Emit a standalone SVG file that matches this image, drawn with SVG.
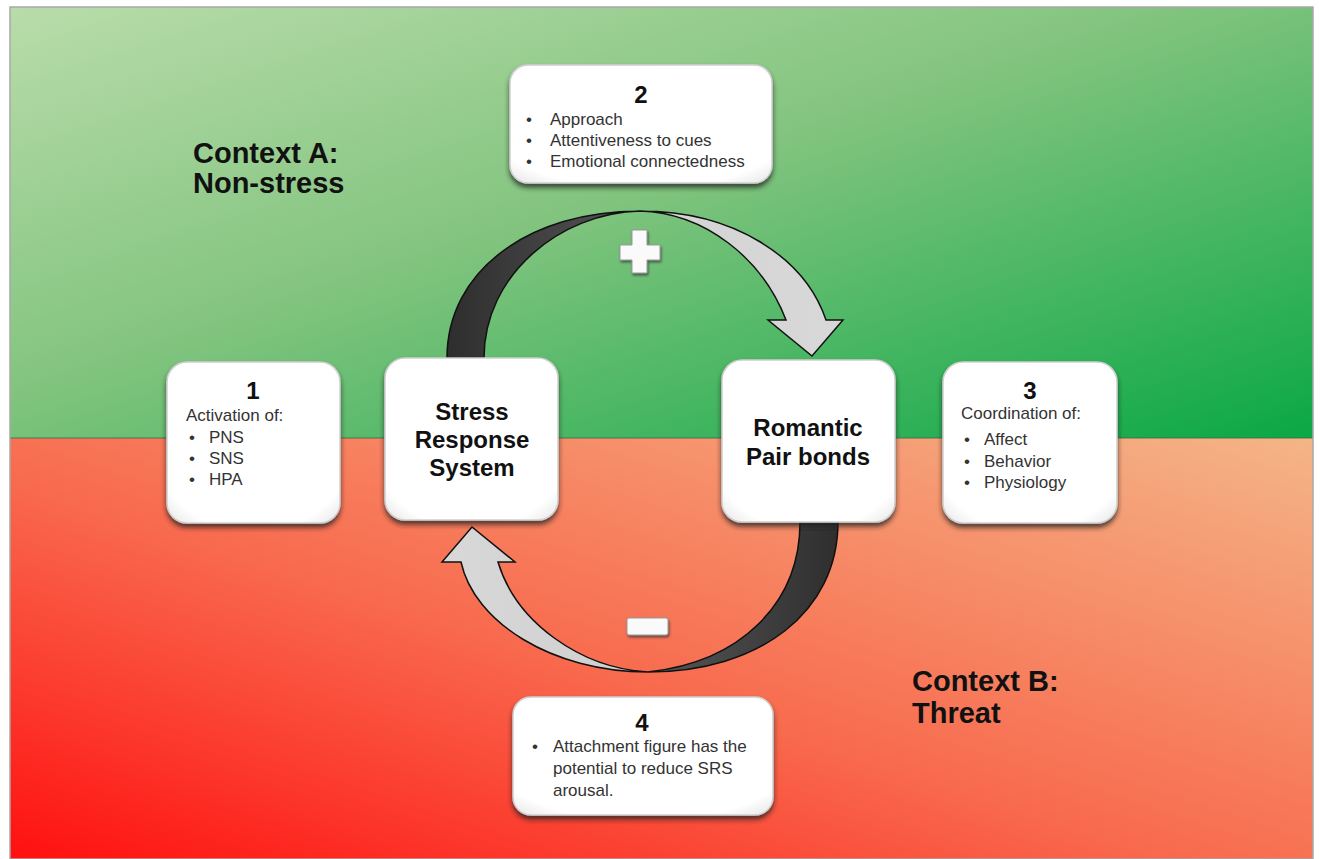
<svg xmlns="http://www.w3.org/2000/svg" width="1320" height="859" viewBox="0 0 1320 859">
<defs>
<linearGradient id="gGreen" x1="0" y1="0" x2="1" y2="1">
<stop offset="0" stop-color="#b9dcaa"/>
<stop offset="0.45" stop-color="#82c47f"/>
<stop offset="1" stop-color="#0aa845"/>
</linearGradient>
<linearGradient id="gRed" x1="0" y1="1" x2="1" y2="0">
<stop offset="0" stop-color="#ff1010"/>
<stop offset="0.45" stop-color="#f86a4e"/>
<stop offset="1" stop-color="#f4b587"/>
</linearGradient>
<linearGradient id="gTop" x1="440" y1="0" x2="850" y2="0" gradientUnits="userSpaceOnUse">
<stop offset="0" stop-color="#2c2c2c"/>
<stop offset="0.35" stop-color="#4a4a4a"/>
<stop offset="0.47" stop-color="#555"/>
<stop offset="0.55" stop-color="#d4d4d4"/>
<stop offset="1" stop-color="#d8d8d8"/>
</linearGradient>
<linearGradient id="gBot" x1="440" y1="0" x2="850" y2="0" gradientUnits="userSpaceOnUse">
<stop offset="0" stop-color="#d8d8d8"/>
<stop offset="0.45" stop-color="#d0d0d0"/>
<stop offset="0.53" stop-color="#555"/>
<stop offset="1" stop-color="#2c2c2c"/>
</linearGradient>
<radialGradient id="gBox" cx="0.5" cy="0.45" r="0.75">
<stop offset="0.8" stop-color="#ffffff"/>
<stop offset="1" stop-color="#e4e4e4"/>
</radialGradient>
<filter id="shadow" x="-10%" y="-10%" width="120%" height="125%">
<feDropShadow dx="0" dy="4" stdDeviation="2.5" flood-color="#222" flood-opacity="0.75"/>
</filter>
<filter id="signShadow" x="-30%" y="-30%" width="160%" height="160%">
<feDropShadow dx="1" dy="2" stdDeviation="1.2" flood-color="#333" flood-opacity="0.7"/>
</filter>
</defs>
<style>
.box{fill:url(#gBox);stroke:#cfcfcf;stroke-width:1.5;filter:url(#shadow)}
.num{font-family:"Liberation Sans",Arial,sans-serif;font-weight:bold;font-size:24px;fill:#111;text-anchor:middle}
.txt{font-family:"Liberation Sans",Arial,sans-serif;font-size:17px;fill:#333}
.big{font-family:"Liberation Sans",Arial,sans-serif;font-weight:bold;font-size:24px;fill:#111;text-anchor:middle}
.ctx{font-family:"Liberation Sans",Arial,sans-serif;font-weight:bold;font-size:29px;fill:#111}
.arc{stroke:#111;stroke-width:1.5;stroke-linejoin:miter}
.sign{fill:#fafafa;stroke:#999;stroke-width:1;filter:url(#signShadow)}
</style>

<g id="background">
<rect x="10" y="7" width="1303" height="431" fill="url(#gGreen)"/>
<rect x="10" y="438" width="1303" height="421" fill="url(#gRed)"/>
<line x1="10" y1="438" x2="1313" y2="438" stroke="#3f6f48" stroke-width="1.5" opacity="0.6"/>
<rect x="10" y="7" width="1303" height="852" fill="none" stroke="#a8a8a8" stroke-width="1.5"/>
</g>

<g id="context-a">
<text class="ctx" x="193" y="163">Context A:</text>
<text class="ctx" x="193" y="193">Non-stress</text>
</g>
<g id="context-b">
<text class="ctx" x="912" y="691">Context B:</text>
<text class="ctx" x="912" y="723">Threat</text>
</g>

<g id="connectors">
<path id="arc-plus" class="arc" fill="url(#gTop)" d="M447,358 C447,270 530,211 640,211 C735,211 805,258 826,320 L843,320 L812,356 L768,320 L786,320 C762,258 705,213 640,211 C560,213 484,275 484,358 Z"/>
<path id="arc-minus" class="arc" fill="url(#gBot)" d="M838,522 C838,612 760,672 648,672 C552,672 474,622 461,562 L442,562 L472,527 L515,562 L498,562 C516,622 580,668 648,672 C740,662 800,604 800,522 Z"/>
<path id="plus" class="sign" d="M632,230 L647,230 L647,245 L660,245 L660,260 L647,260 L647,273 L632,273 L632,260 L620,260 L620,245 L632,245 Z"/>
<rect id="minus" class="sign" x="627" y="618" width="41" height="17" rx="2"/>
</g>

<g id="node-2">
<rect class="box" x="510" y="65" width="262" height="118" rx="18"/>
<text class="num" x="641" y="103">2</text>
<text class="txt" x="526" y="125">•</text><text class="txt" x="550" y="125">Approach</text>
<text class="txt" x="526" y="146">•</text><text class="txt" x="550" y="146">Attentiveness to cues</text>
<text class="txt" x="526" y="167">•</text><text class="txt" x="550" y="167">Emotional connectedness</text>
</g>

<g id="node-1">
<rect class="box" x="167" y="362" width="173" height="161" rx="20"/>
<text class="num" x="253" y="399">1</text>
<text class="txt" x="186" y="421">Activation of:</text>
<text class="txt" x="189" y="443">•</text><text class="txt" x="209" y="443">PNS</text>
<text class="txt" x="189" y="464">•</text><text class="txt" x="209" y="464">SNS</text>
<text class="txt" x="189" y="485">•</text><text class="txt" x="209" y="485">HPA</text>
</g>

<g id="node-srs">
<rect class="box" x="385" y="358" width="173" height="162" rx="20"/>
<text class="big" x="472" y="420">Stress</text>
<text class="big" x="472" y="448">Response</text>
<text class="big" x="472" y="476">System</text>
</g>

<g id="node-rpb">
<rect class="box" x="722" y="360" width="173" height="162" rx="20"/>
<text class="big" x="808" y="436">Romantic</text>
<text class="big" x="808" y="465">Pair bonds</text>
</g>

<g id="node-3">
<rect class="box" x="943" y="362" width="174" height="161" rx="20"/>
<text class="num" x="1030" y="399">3</text>
<text class="txt" x="961" y="419">Coordination of:</text>
<text class="txt" x="964" y="445">•</text><text class="txt" x="984" y="445">Affect</text>
<text class="txt" x="964" y="467">•</text><text class="txt" x="984" y="467">Behavior</text>
<text class="txt" x="964" y="488">•</text><text class="txt" x="984" y="488">Physiology</text>
</g>

<g id="node-4">
<rect class="box" x="513" y="697" width="260" height="118" rx="18"/>
<text class="num" x="642" y="731">4</text>
<text class="txt" x="532" y="752">•</text><text class="txt" x="553" y="752">Attachment figure has the</text>
<text class="txt" x="553" y="774">potential to reduce SRS</text>
<text class="txt" x="553" y="796">arousal.</text>
</g>
</svg>
